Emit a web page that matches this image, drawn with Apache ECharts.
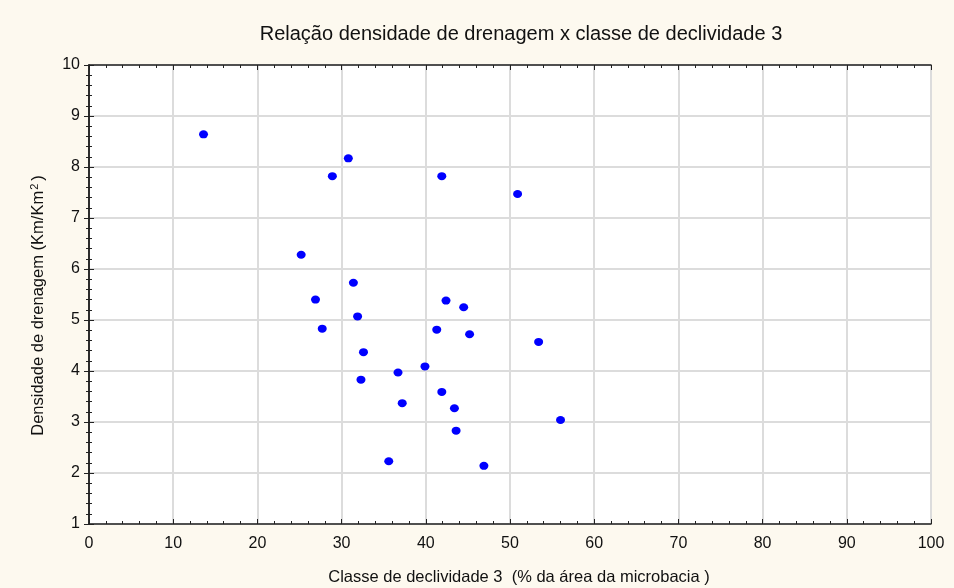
<!DOCTYPE html>
<html>
<head>
<meta charset="utf-8">
<style>
  html, body { margin: 0; padding: 0; background: #fdf9ef; }
  #chart { width: 954px; height: 588px; }
</style>
<script src="https://cdn.jsdelivr.net/npm/echarts@6/dist/echarts.min.js"></script>
</head>
<body>
<div id="chart"></div>
<script>
// Slope class 3 share (% of micro-basin area)
const declividade = [13.6, 30.8, 28.9, 41.9, 50.9, 25.2, 31.4, 26.9, 42.4, 44.5, 31.9, 27.7, 41.3, 45.2,
  53.4, 32.6, 39.9, 36.7, 32.3, 41.9, 37.2, 43.4, 56.0, 43.6, 35.6, 46.9];
// Drainage density (km/km²)
const densidade = [8.64, 8.17, 7.82, 7.82, 7.47, 6.28, 5.73, 5.40, 5.38, 5.25, 5.07, 4.83, 4.81, 4.72,
  4.57, 4.37, 4.09, 3.97, 3.83, 3.59, 3.37, 3.27, 3.04, 2.83, 2.23, 2.14];

const xTicks = { min: 0, max: 100, interval: 10 };
const yTicks = { min: 1, max: 10, interval: 1 };

const points = declividade.map((x, i) => [x, densidade[i]]);

const font = 'Liberation Sans, Arial, sans-serif';
const frame = { show: true, lineStyle: { color: '#222', width: 1.5 } };

function axisBase(extra) {
  return Object.assign({
    type: 'value',
    axisLine: frame,
    axisTick: { show: true, inside: true, length: 5, lineStyle: { color: '#222' } },
    minorTick: { show: true, splitNumber: 5, length: 3, lineStyle: { color: '#222' } },
    splitLine: { show: false },
    axisLabel: { show: false }
  }, extra);
}

const chart = echarts.init(document.getElementById('chart'));
chart.setOption({
  backgroundColor: '#fdf9ef',
  animation: false,
  title: {
    text: 'Relação densidade de drenagem x classe de declividade 3',
    left: 516, top: 19, textAlign: 'center',
    textStyle: { fontFamily: font, fontSize: 20, fontWeight: 'normal', color: '#111' }
  },
  grid: {
    left: 89, right: 23, top: 65, bottom: 64,
    outerBoundsMode: 'none', containLabel: false,
    show: true, backgroundColor: '#ffffff', borderWidth: 0
  },
  xAxis: [
    axisBase({
      position: 'bottom', min: xTicks.min, max: xTicks.max, interval: xTicks.interval,
      splitLine: { show: true, lineStyle: { color: '#dcdcdc', width: 2 } },
      axisLabel: { show: true, fontFamily: font, fontSize: 16, color: '#111', margin: 12 },
      name: 'Classe de declividade 3  (% da área da microbacia )',
      nameLocation: 'middle', nameGap: 45,
      nameTextStyle: { fontFamily: font, fontSize: 16.5, color: '#111', padding: [0, 0, 0, 18] }
    }),
    axisBase({ position: 'top', min: xTicks.min, max: xTicks.max, interval: xTicks.interval })
  ],
  yAxis: [
    axisBase({
      position: 'left', min: yTicks.min, max: yTicks.max, interval: yTicks.interval,
      splitLine: { show: true, lineStyle: { color: '#dcdcdc', width: 2 } },
      axisLabel: { show: true, fontFamily: font, fontSize: 16, color: '#111', margin: 9 },
      name: 'Densidade de drenagem (Km/Km{sup|2})',
      nameLocation: 'middle', nameGap: 41,
      nameTextStyle: {
        fontFamily: font, fontSize: 16.5, color: '#111', padding: [0, 22, 0, 0],
        rich: { sup: { fontFamily: font, fontSize: 11, color: '#111', verticalAlign: 'top', padding: [0, 3, 8, 1] } }
      }
    }),
    axisBase({ position: 'right', min: yTicks.min, max: yTicks.max, interval: yTicks.interval })
  ],
  series: [{
    type: 'scatter',
    xAxisIndex: 0, yAxisIndex: 0,
    data: points,
    symbol: 'circle',
    symbolSize: [9, 8],
    itemStyle: { color: '#0000ff', opacity: 1 }
  }]
});
</script>
</body>
</html>
